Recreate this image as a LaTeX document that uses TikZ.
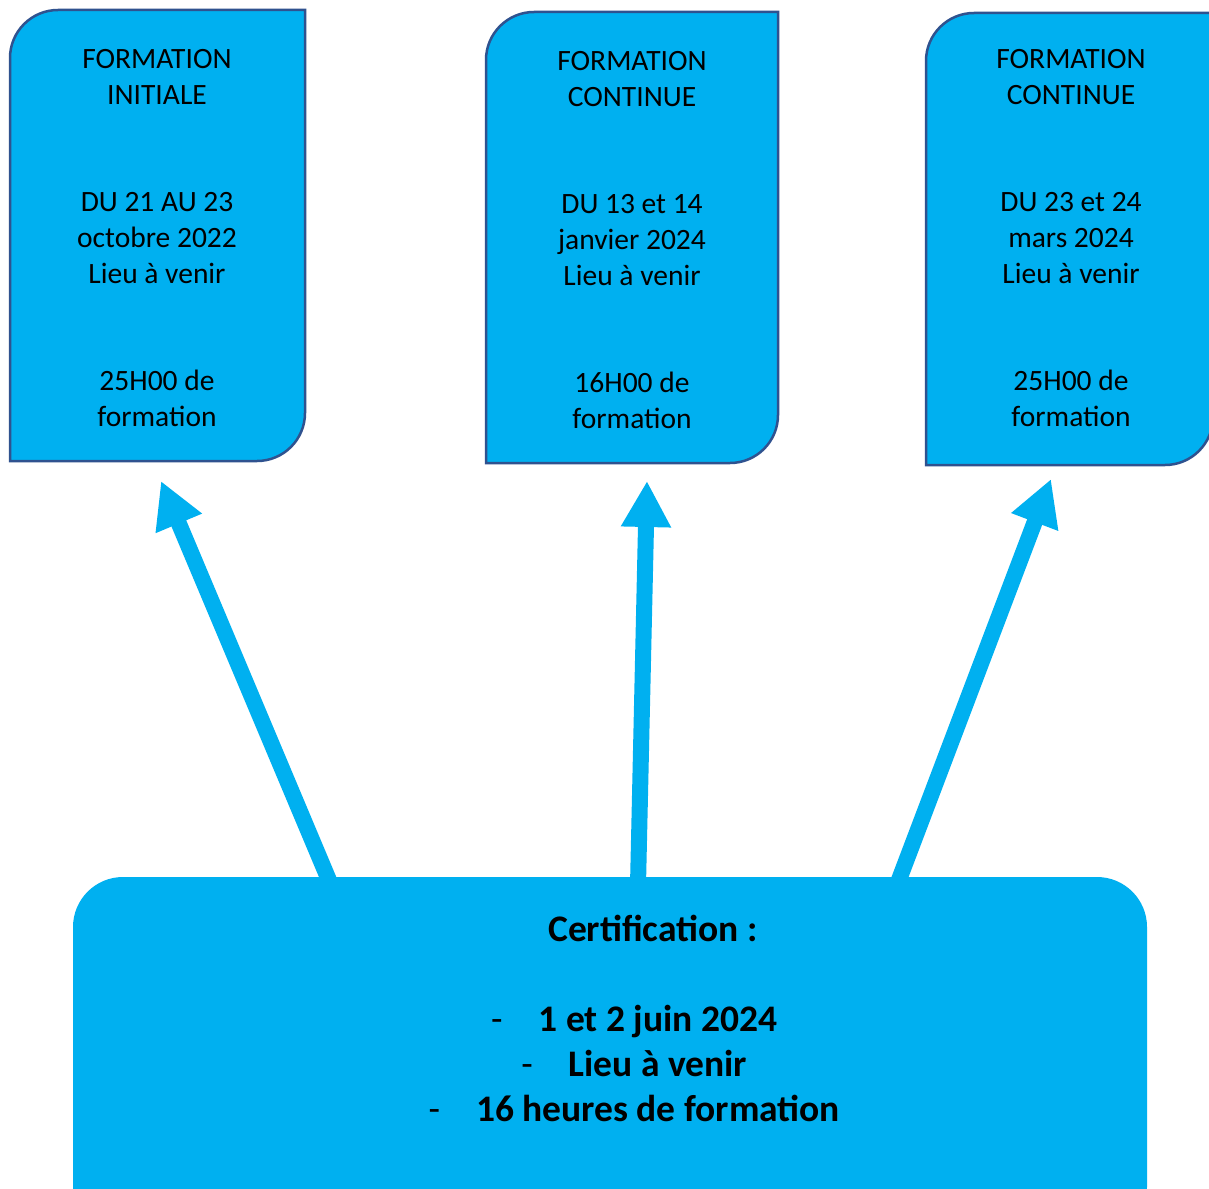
\documentclass[tikz,border=0pt]{standalone}
\usepackage{fontspec}
\setmainfont{Carlito}
\usetikzlibrary{arrows.meta,calc}
\definecolor{cyanfill}{HTML}{00B0F0}
\definecolor{edgeblue}{HTML}{2F528F}
\begin{document}
\begin{tikzpicture}[x=1pt,y=1pt,
  frame/.style={fill=cyanfill, draw=edgeblue, line width=2.5pt},
  holder/.style={inner sep=0pt, outer sep=0pt},
  boxtext/.style={inner sep=0pt, font=\fontsize{29.5}{35.8}\selectfont, align=center, text=black, anchor=north},
  certtext/.style={inner sep=0pt, font=\fontsize{37.5}{45}\selectfont\bfseries, text=black, anchor=base},
  bigarrow/.style={draw=cyanfill, line width=16pt, -{Triangle[length=46pt,width=47pt]}}
]
\useasboundingbox (0,0) rectangle (1209,-1188);
\clip (0,0) rectangle (1209,-1188);
\fill[white] (0,0) rectangle (1209,-1188);

% arrow end points
\coordinate (a1s) at (331,-885); \coordinate (a1e) at (161,-481);
\coordinate (a2s) at (638,-885); \coordinate (a2e) at (647,-481);
\coordinate (a3s) at (897,-885); \coordinate (a3e) at (1051,-479);

% certification box
\node[holder, fill=cyanfill, rounded corners=50pt, minimum width=1074pt, minimum height=360pt, anchor=north west] (cert) at (73,-877) {};

% top boxes (placeholders)
\node[holder, minimum width=295pt, minimum height=451pt, anchor=north west] (b1) at (10,-10) {};
\node[holder, minimum width=292pt, minimum height=451pt, anchor=north west] (b2) at (486,-12) {};
\node[holder, minimum width=287pt, minimum height=452pt, anchor=north west] (b3) at (926,-13) {};

\foreach \b in {b1,b2,b3}{
  \draw[frame] (\b.south west) -- ([yshift=-48pt]\b.north west)
    arc[start angle=180, end angle=90, radius=48pt] -- (\b.north east)
    -- ([yshift=48pt]\b.south east)
    arc[start angle=0, end angle=-90, radius=48pt] -- cycle;
}

% arrows
\draw[bigarrow] (a1s) -- (a1e);
\draw[bigarrow] (a2s) -- (a2e);
\draw[bigarrow] (a3s) -- (a3e);
\fill[cyanfill] (cert.north west) ++(50,-2) rectangle ++(974,-60);

% top box texts
\node[boxtext] (t1) at (157,-49) {FORMATION\\INITIALE\\[71.6pt]DU 21 AU 23\\octobre 2022\\Lieu à venir\\[71.6pt]25H00 de\\formation};
\node[boxtext] (t2) at (632,-51) {FORMATION\\CONTINUE\\[71.6pt]DU 13 et 14\\janvier 2024\\Lieu à venir\\[71.6pt]16H00 de\\formation};
\node[boxtext] (t3) at (1071,-49) {FORMATION\\CONTINUE\\[71.6pt]DU 23 et 24\\mars 2024\\Lieu à venir\\[71.6pt]25H00 de\\formation};

% certification texts
\node[certtext] (c0) at (653,-941) {Certification :};
\node[certtext] (c1) at (658,-1031) {\llap{\mdseries -\hspace{36pt}}1 et 2 juin 2024};
\node[certtext] (c2) at (658,-1076) {\llap{\mdseries -\hspace{36pt}}Lieu à venir};
\node[certtext] (c3) at (658,-1121) {\llap{\mdseries -\hspace{36pt}}16 heures de formation};
\end{tikzpicture}
\end{document}
